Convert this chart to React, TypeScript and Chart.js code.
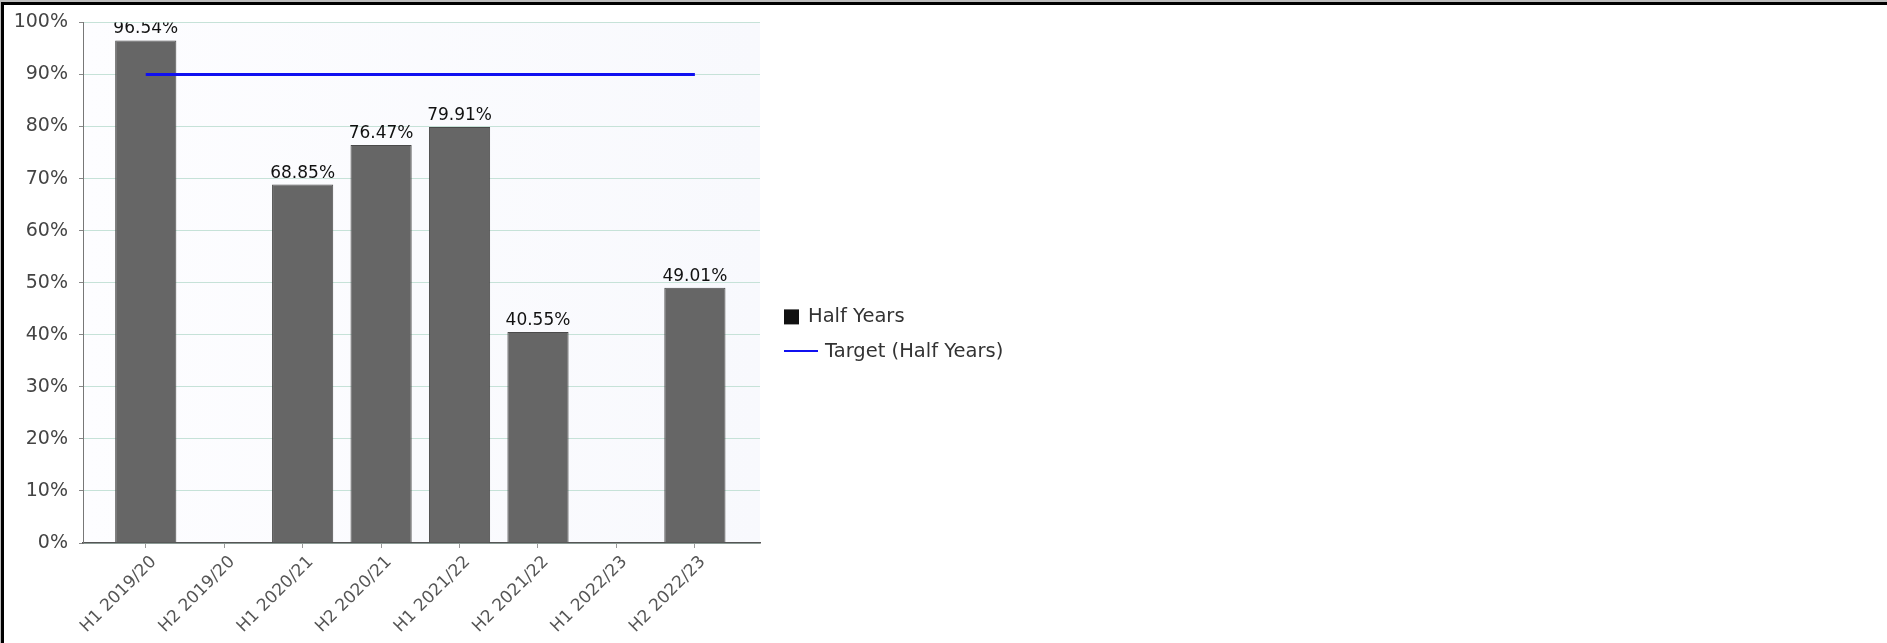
import React, { useEffect, useRef } from "react";
import { Chart, registerables } from "chart.js";

Chart.register(...registerables);

// ---- data ----
const categories = [
  "H1 2019/20",
  "H2 2019/20",
  "H1 2020/21",
  "H2 2020/21",
  "H1 2021/22",
  "H2 2021/22",
  "H1 2022/23",
  "H2 2022/23",
];
const halfYearValues: (number | null)[] = [96.54, null, 68.85, 76.47, 79.91, 40.55, null, 49.01];
const targetValues = [90, 90, 90, 90, 90, 90, 90, 90];
const seriesNames = ["Half Years", "Target (Half Years)"];
const yTickStep = 10;
const yMin = 0;
const yMax = 100;

const FONT = '"DejaVu Sans", Verdana, sans-serif';

const areaBackground = {
  id: "areaBackground",
  beforeDraw(chart: any) {
    const { ctx, chartArea: a } = chart;
    ctx.save();
    const g = ctx.createLinearGradient(a.left, 0, a.right, 0);
    g.addColorStop(0, "#fdfdff");
    g.addColorStop(1, "#f8f9fd");
    ctx.fillStyle = g;
    ctx.fillRect(a.left, a.top, a.right - a.left, a.bottom - a.top);
    ctx.restore();
  },
};

const dataLabels = {
  id: "dataLabels",
  afterDatasetsDraw(chart: any) {
    const { ctx, chartArea: a } = chart;
    const meta = chart.getDatasetMeta(0);
    ctx.save();
    ctx.beginPath();
    ctx.rect(a.left, a.top, a.right - a.left, a.bottom - a.top);
    ctx.clip();
    ctx.font = `17px ${FONT}`;
    ctx.fillStyle = "#111";
    ctx.textAlign = "center";
    ctx.textBaseline = "alphabetic";
    meta.data.forEach((el: any, i: number) => {
      const v = halfYearValues[i];
      if (v === null || v === undefined) return;
      ctx.fillText(`${v.toFixed(2)}%`, el.x, el.y - 7);
    });
    ctx.restore();
  },
};

const sideLegend = {
  id: "sideLegend",
  afterDraw(chart: any) {
    const { ctx, chartArea: a } = chart;
    const x0 = a.right + 24;
    const y1 = a.top + 294.5;
    const y2 = a.top + 328.5;
    ctx.save();
    ctx.font = `19.5px ${FONT}`;
    ctx.textBaseline = "middle";
    ctx.textAlign = "left";
    // bar entry
    ctx.fillStyle = "#111";
    ctx.fillRect(x0, y1 - 7.5, 15, 15);
    ctx.fillStyle = "#333";
    ctx.fillText(String(chart.data.datasets[0].label), x0 + 24, y1);
    // line entry
    ctx.strokeStyle = chart.data.datasets[1].borderColor;
    ctx.lineWidth = 2;
    ctx.beginPath();
    ctx.moveTo(x0, y2);
    ctx.lineTo(x0 + 34, y2);
    ctx.stroke();
    ctx.fillText(String(chart.data.datasets[1].label), x0 + 41, y2 + 1);
    ctx.restore();
  },
};

function BarChart() {
  const ref = useRef<HTMLCanvasElement | null>(null);
  useEffect(() => {
    if (!ref.current) return;
    Chart.defaults.font.family = FONT;
    const chart = new Chart(ref.current, {
      type: "bar",
      data: {
        datasets: [
          {
            type: "bar",
            label: seriesNames[0],
            data: halfYearValues.map((v, i) => ({ x: i, y: v })) as any,
            backgroundColor: "#666666",
            borderColor: "#4a4a4a",
            borderWidth: 1,
            barPercentage: 0.78,
            categoryPercentage: 1,
            order: 1,
          } as any,
          {
            type: "line",
            label: seriesNames[1],
            data: targetValues.map((v, i) => ({ x: i, y: v })) as any,
            borderColor: "#1010f0",
            borderWidth: 3,
            pointRadius: 0,
            fill: false,
            order: 0,
          } as any,
        ],
      },
      options: {
        responsive: false,
        animation: false,
        layout: { padding: { top: 21, right: 1127, bottom: 0, left: 0 } },
        plugins: {
          legend: { display: false },
          tooltip: { enabled: false },
        },
        scales: {
          x: {
            type: "linear",
            offset: false,
            min: -0.8,
            max: 7.83,
            afterBuildTicks: (s: any) => {
              s.ticks = categories.map((_, i) => ({ value: i }));
            },
            afterFit: (s: any) => {
              s.height = 100;
            },
            ticks: {
              autoSkip: false,
              minRotation: 45,
              maxRotation: 45,
              color: "#555",
              font: { size: 17 },
              padding: 4,
              labelOffset: 8,
              callback: (v: any) => categories[Math.round(Number(v))] ?? "",
            },
            grid: { offset: false, drawOnChartArea: false, drawTicks: true, tickLength: 5, tickColor: "#999" },
            border: { color: "#555", width: 1.5 },
          },
          y: {
            min: yMin,
            max: yMax,
            afterFit: (s: any) => {
              s.width = 83;
            },
            ticks: {
              stepSize: yTickStep,
              color: "#444",
              font: { size: 19 },
              padding: 11,
              callback: (v: any) => `${v}%`,
            },
            grid: { color: "#c6e2d8", tickLength: 4, tickColor: "#888" },
            border: { color: "#777", width: 1 },
          },
        },
      } as any,
      plugins: [areaBackground, dataLabels, sideLegend],
    });
    return () => chart.destroy();
  }, []);
  return <canvas ref={ref} width={1887} height={643} style={{ position: "absolute", left: 0, top: 0 }} />;
}

export default function App() {
  return (
    <div style={{ position: "absolute", left: 0, top: 0, width: 1887, height: 643, background: "#fff", overflow: "hidden" }}>
      <BarChart />
      <div style={{ position: "absolute", left: 0, top: 0, width: 1887, height: 2, background: "#bdbdbd" }} />
      <div style={{ position: "absolute", left: 0, top: 2, width: 1887, height: 3, background: "#000" }} />
      <div style={{ position: "absolute", left: 0, top: 2, width: 1, height: 641, background: "#bdbdbd" }} />
      <div style={{ position: "absolute", left: 1, top: 2, width: 3, height: 641, background: "#000" }} />
    </div>
  );
}
